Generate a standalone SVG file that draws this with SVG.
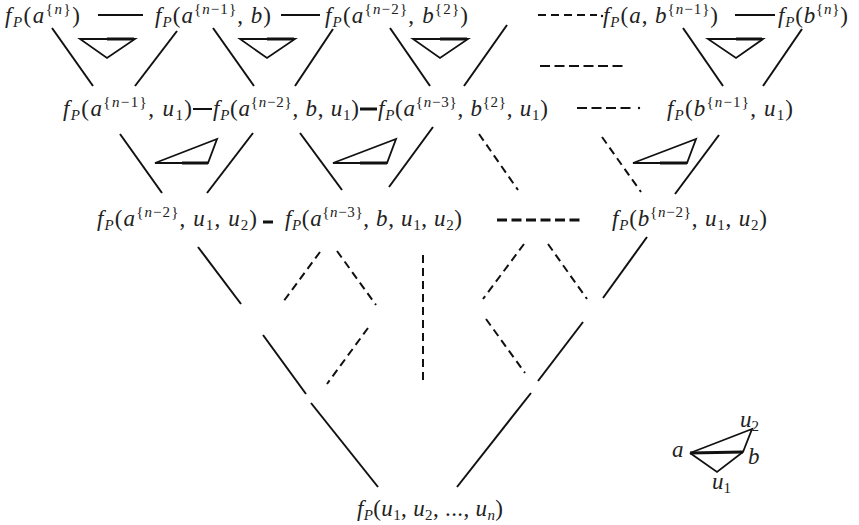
<svg xmlns="http://www.w3.org/2000/svg" width="859" height="525" viewBox="0 0 859 525">
<style>
.m{font-family:"Liberation Serif","DejaVu Serif",serif;font-size:23px;fill:#222}
.i{font-style:italic}
.s{font-size:15px}
.c{stroke:#111;stroke-width:2;fill:none;stroke-linecap:butt}
.k{stroke-width:3}
.d{stroke-dasharray:8 5}
.d2{stroke-dasharray:10 4.5}
.t{stroke:#111;stroke-width:1.8;fill:none;stroke-linejoin:miter}
.tk{stroke:#111;stroke-width:3;fill:none}
</style>
<rect width="859" height="525" fill="#fff"/>

<g id="connectors">
<line class="c" x1="98" y1="15" x2="143" y2="15"/>
<line class="c" x1="281" y1="15" x2="320" y2="15"/>
<line class="c d" x1="538" y1="15" x2="597" y2="15"/>
<circle cx="602" cy="16" r="1.2" fill="#111"/>
<line class="c" x1="735" y1="15" x2="775" y2="15"/>
<line class="c d2" x1="540" y1="66" x2="627" y2="66"/>
<line class="c" x1="52" y1="28" x2="93" y2="86"/>
<line class="c" x1="177" y1="31" x2="135" y2="86"/>
<line class="c" x1="213" y1="28" x2="254" y2="86"/>
<line class="c" x1="333" y1="29" x2="295" y2="86"/>
<line class="c" x1="390" y1="28" x2="430" y2="86"/>
<line class="c" x1="507" y1="25" x2="464" y2="86"/>
<line class="c" x1="683" y1="28" x2="723" y2="86"/>
<line class="c" x1="802" y1="29" x2="763" y2="86"/>
<line class="c" x1="193" y1="109" x2="212" y2="109"/>
<line class="c k" x1="360" y1="109" x2="377" y2="109"/>
<line class="c d2" x1="577" y1="108" x2="634" y2="108"/>
<circle cx="639" cy="108" r="1.2" fill="#111"/>
<line class="c" x1="120" y1="134" x2="162" y2="193"/>
<line class="c" x1="253" y1="133" x2="207" y2="193"/>
<line class="c" x1="300" y1="133" x2="342" y2="190"/>
<line class="c" x1="433" y1="127" x2="389" y2="187"/>
<line class="c d" x1="479" y1="134" x2="518" y2="190"/>
<line class="c d" x1="602" y1="137" x2="641" y2="192"/>
<line class="c" x1="719" y1="135" x2="675" y2="194"/>
<line class="c k" x1="263" y1="222" x2="273" y2="222"/>
<line class="c k d2" x1="497" y1="220" x2="584" y2="220"/>
<line class="c" x1="198" y1="247" x2="241" y2="304"/>
<line class="c d" x1="320" y1="252" x2="283" y2="302"/>
<line class="c d" x1="337" y1="251" x2="376" y2="305"/>
<line class="c" x1="263" y1="335" x2="306" y2="394"/>
<line class="c d" x1="368" y1="328" x2="327" y2="384"/>
<line class="c d" x1="423" y1="255" x2="423" y2="383"/>
<line class="c d" x1="524" y1="244" x2="483" y2="299"/>
<line class="c d" x1="548" y1="244" x2="587" y2="299"/>
<line class="c" x1="647" y1="237" x2="603" y2="298"/>
<line class="c d" x1="486" y1="319" x2="525" y2="373"/>
<line class="c" x1="583" y1="322" x2="538" y2="381"/>
<line class="c" x1="311" y1="403" x2="378" y2="487"/>
<line class="c" x1="531" y1="393" x2="457" y2="487"/>
</g>

<g id="triangles">
<polygon class="t" points="80,39 135,39 107,58"/><line class="tk" x1="107" y1="39" x2="134" y2="39"/>
<polygon class="t" points="240,39 295,39 267,58"/><line class="tk" x1="267" y1="39" x2="294" y2="39"/>
<polygon class="t" points="413,39 468,39 440,58"/><line class="tk" x1="440" y1="39" x2="467" y2="39"/>
<polygon class="t" points="708,39 763,39 736,58"/><line class="tk" x1="736" y1="39" x2="762" y2="39"/>
<polygon class="t" points="155,163 217,139 208,163"/><line class="tk" x1="182" y1="163" x2="208" y2="163"/>
<polygon class="t" points="333,163 396,139 387,163"/><line class="tk" x1="360" y1="163" x2="387" y2="163"/>
<polygon class="t" points="633,163 696,139 687,163"/><line class="tk" x1="660" y1="163" x2="687" y2="163"/>
</g>

<g id="n1"><text class="m" x="5" y="23" textLength="75"><tspan class="i">f</tspan><tspan class="s i" dy="4">P</tspan><tspan dy="-4">(</tspan><tspan class="i">a</tspan><tspan class="s" dy="-9">{<tspan class="i">n</tspan>}</tspan><tspan dy="9">)</tspan></text></g>
<g id="n2"><text class="m" x="155" y="23" textLength="116"><tspan class="i">f</tspan><tspan class="s i" dy="4">P</tspan><tspan dy="-4">(</tspan><tspan class="i">a</tspan><tspan class="s" dy="-9">{<tspan class="i">n</tspan>−1}</tspan><tspan dy="9">, </tspan><tspan class="i">b</tspan><tspan>)</tspan></text></g>
<g id="n3"><text class="m" x="325" y="23" textLength="143"><tspan class="i">f</tspan><tspan class="s i" dy="4">P</tspan><tspan dy="-4">(</tspan><tspan class="i">a</tspan><tspan class="s" dy="-9">{<tspan class="i">n</tspan>−2}</tspan><tspan dy="9">, </tspan><tspan class="i">b</tspan><tspan class="s" dy="-9">{2}</tspan><tspan dy="9">)</tspan></text></g>
<g id="n4"><text class="m" x="603" y="23" textLength="115"><tspan class="i">f</tspan><tspan class="s i" dy="4">P</tspan><tspan dy="-4">(</tspan><tspan class="i">a</tspan><tspan>, </tspan><tspan class="i">b</tspan><tspan class="s" dy="-9">{<tspan class="i">n</tspan>−1}</tspan><tspan dy="9">)</tspan></text></g>
<g id="n5"><text class="m" x="778" y="23" textLength="70"><tspan class="i">f</tspan><tspan class="s i" dy="4">P</tspan><tspan dy="-4">(</tspan><tspan class="i">b</tspan><tspan class="s" dy="-9">{<tspan class="i">n</tspan>}</tspan><tspan dy="9">)</tspan></text></g>

<g id="n6"><text class="m" x="63" y="116" textLength="129"><tspan class="i">f</tspan><tspan class="s i" dy="4">P</tspan><tspan dy="-4">(</tspan><tspan class="i">a</tspan><tspan class="s" dy="-9">{<tspan class="i">n</tspan>−1}</tspan><tspan dy="9">, </tspan><tspan class="i">u</tspan><tspan class="s" dy="4">1</tspan><tspan dy="-4">)</tspan></text></g>
<g id="n7"><text class="m" x="213" y="116" textLength="146"><tspan class="i">f</tspan><tspan class="s i" dy="4">P</tspan><tspan dy="-4">(</tspan><tspan class="i">a</tspan><tspan class="s" dy="-9">{<tspan class="i">n</tspan>−2}</tspan><tspan dy="9">, </tspan><tspan class="i">b</tspan><tspan>, </tspan><tspan class="i">u</tspan><tspan class="s" dy="4">1</tspan><tspan dy="-4">)</tspan></text></g>
<g id="n8"><text class="m" x="378" y="116" textLength="170"><tspan class="i">f</tspan><tspan class="s i" dy="4">P</tspan><tspan dy="-4">(</tspan><tspan class="i">a</tspan><tspan class="s" dy="-9">{<tspan class="i">n</tspan>−3}</tspan><tspan dy="9">, </tspan><tspan class="i">b</tspan><tspan class="s" dy="-9">{2}</tspan><tspan dy="9">, </tspan><tspan class="i">u</tspan><tspan class="s" dy="4">1</tspan><tspan dy="-4">)</tspan></text></g>
<g id="n9"><text class="m" x="667" y="116" textLength="126"><tspan class="i">f</tspan><tspan class="s i" dy="4">P</tspan><tspan dy="-4">(</tspan><tspan class="i">b</tspan><tspan class="s" dy="-9">{<tspan class="i">n</tspan>−1}</tspan><tspan dy="9">, </tspan><tspan class="i">u</tspan><tspan class="s" dy="4">1</tspan><tspan dy="-4">)</tspan></text></g>

<g id="n10"><text class="m" x="97" y="226" textLength="160"><tspan class="i">f</tspan><tspan class="s i" dy="4">P</tspan><tspan dy="-4">(</tspan><tspan class="i">a</tspan><tspan class="s" dy="-9">{<tspan class="i">n</tspan>−2}</tspan><tspan dy="9">, </tspan><tspan class="i">u</tspan><tspan class="s" dy="4">1</tspan><tspan dy="-4">, </tspan><tspan class="i">u</tspan><tspan class="s" dy="4">2</tspan><tspan dy="-4">)</tspan></text></g>
<g id="n11"><text class="m" x="285" y="226" textLength="177"><tspan class="i">f</tspan><tspan class="s i" dy="4">P</tspan><tspan dy="-4">(</tspan><tspan class="i">a</tspan><tspan class="s" dy="-9">{<tspan class="i">n</tspan>−3}</tspan><tspan dy="9">, </tspan><tspan class="i">b</tspan><tspan>, </tspan><tspan class="i">u</tspan><tspan class="s" dy="4">1</tspan><tspan dy="-4">, </tspan><tspan class="i">u</tspan><tspan class="s" dy="4">2</tspan><tspan dy="-4">)</tspan></text></g>
<g id="n12"><text class="m" x="612" y="226" textLength="155"><tspan class="i">f</tspan><tspan class="s i" dy="4">P</tspan><tspan dy="-4">(</tspan><tspan class="i">b</tspan><tspan class="s" dy="-9">{<tspan class="i">n</tspan>−2}</tspan><tspan dy="9">, </tspan><tspan class="i">u</tspan><tspan class="s" dy="4">1</tspan><tspan dy="-4">, </tspan><tspan class="i">u</tspan><tspan class="s" dy="4">2</tspan><tspan dy="-4">)</tspan></text></g>

<g id="n13"><text class="m" x="357" y="516" textLength="146"><tspan class="i">f</tspan><tspan class="s i" dy="4">P</tspan><tspan dy="-4">(</tspan><tspan class="i">u</tspan><tspan class="s" dy="4">1</tspan><tspan dy="-4">, </tspan><tspan class="i">u</tspan><tspan class="s" dy="4">2</tspan><tspan dy="-4">, ..., </tspan><tspan class="i">u</tspan><tspan class="s i" dy="4">n</tspan><tspan dy="-4">)</tspan></text></g>

<g id="legend">
<polyline class="t" points="690,453 752,429 743,452 717,472 690,453"/>
<line class="tk" x1="690" y1="453" x2="743" y2="452"/>
<text class="m i" x="672" y="457">a</text>
<text class="m i" x="748" y="464">b</text>
<text class="m" x="740" y="427"><tspan class="i">u</tspan><tspan class="s" dy="4">2</tspan></text>
<text class="m" x="712" y="489"><tspan class="i">u</tspan><tspan class="s" dy="4">1</tspan></text>
</g>
</svg>
